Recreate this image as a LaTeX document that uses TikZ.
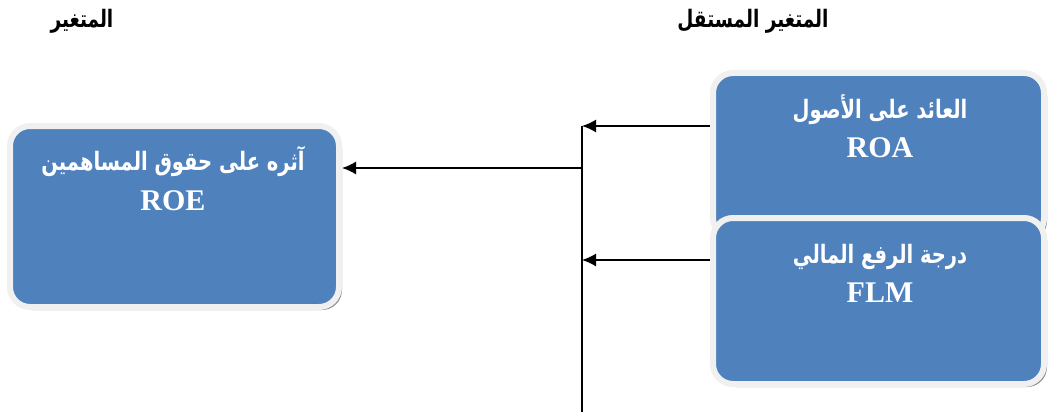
\documentclass[tikz,border=0pt]{standalone}
\usepackage{fontspec}
\setmainfont{Liberation Serif}
\newfontfamily\arabicfont[Script=Arabic]{DejaVu Sans}
\TeXXeTstate=1
\usetikzlibrary{arrows.meta,shadows}
\definecolor{boxblue}{HTML}{4F81BD}
\definecolor{boxframe}{HTML}{F0F0F0}
\definecolor{shadowgray}{HTML}{8C8C8C}
\newcommand{\artall}[1]{\scalebox{1}[1.3]{\beginR #1\endR}}
\tikzset{
  x=1pt,y=1pt,
  varbox/.style={draw=boxframe, line width=6pt, fill=boxblue, rounded corners=20pt,
    minimum width=329pt, inner sep=0pt,
    drop shadow={shadow xshift=3pt, shadow yshift=-3pt, fill=shadowgray, opacity=1}},
  artext/.style={anchor=base, text=white, font=\arabicfont\bfseries\fontsize{19.5}{22}\selectfont, inner sep=0pt},
  latext/.style={anchor=base, text=white, font=\bfseries\fontsize{30}{32}\selectfont, inner sep=0pt},
  headtext/.style={anchor=base, text=black, font=\arabicfont\bfseries\fontsize{18.5}{20}\selectfont, inner sep=0pt},
  conn/.style={line width=1.5pt, black},
  arr/.style={conn, -{Latex[length=14pt,width=13pt]}}
}
\begin{document}
\begin{tikzpicture}
\useasboundingbox (0,0) rectangle (1048,-417);
% headings
\node[headtext] (hdep) at (82,-28) {\artall{المتغير}};
\node[headtext] (hind) at (753,-28) {\artall{المتغير المستقل}};
% boxes
\node[varbox, minimum width=329pt, minimum height=181pt] (roe) at (174.5,-216.5) {};
\node[varbox, minimum width=331pt, minimum height=165pt] (roa) at (878.5,-155.5) {};
\node[varbox, minimum width=331pt, minimum height=166pt] (flm) at (878.5,-301) {};
% texts
\node[artext] (roeA) at (173,-170) {\artall{آثره على حقوق المساهمين}};
\node[latext] (roeL) at (173,-210) {ROE};
\node[artext] (roaA) at (880,-118) {\artall{العائد على الأصول}};
\node[latext] (roaL) at (880,-157) {ROA};
\node[artext] (flmA) at (880,-263) {\artall{درجة الرفع المالي}};
\node[latext] (flmL) at (880,-302) {FLM};
% connectors
\coordinate (j1) at (582,-126);
\coordinate (j2) at (582,-260);
\coordinate (jm) at (582,-168);
\coordinate (jb) at (582,-412);
\draw[conn] (j1) -- (jb);
\draw[arr] (roa.west |- j1) -- (j1);
\draw[arr] (flm.west |- j2) -- (j2);
\draw[arr] (jm) -- (roe.east |- jm);
\end{tikzpicture}
\end{document}
